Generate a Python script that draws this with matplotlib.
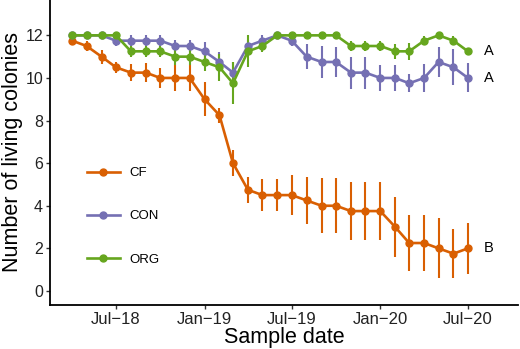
import matplotlib
matplotlib.use("Agg")
import matplotlib.pyplot as plt
import matplotlib.dates as mdates
import numpy as np
import pandas as pd
from matplotlib.lines import Line2D

plt.rcParams['font.family'] = ['Liberation Sans', 'DejaVu Sans']

dates = pd.date_range("2018-04-01", "2020-07-01", freq="MS")

cf_mean = [11.75, 11.5, 11, 10.5, 10.25, 10.25, 10, 10, 10, 9, 8.25, 6, 4.75, 4.5,
           4.5, 4.5, 4.25, 4, 4, 3.75, 3.75, 3.75, 3, 2.25, 2.25, 2, 1.75, 2]
cf_err = [0.2, 0.25, 0.33, 0.26, 0.39, 0.45, 0.47, 0.63, 0.63, 0.8, 0.35, 0.6, 0.61, 0.75,
          0.75, 0.94, 1.1, 1.28, 1.28, 1.37, 1.37, 1.37, 1.4, 1.31, 1.31, 1.41, 1.16, 1.21]

con_mean = [12, 12, 12, 11.75, 11.75, 11.75, 11.75, 11.5, 11.5, 11.25, 10.75, 10.25, 11.5, 11.75,
            12, 11.75, 11, 10.75, 10.75, 10.25, 10.25, 10, 10, 9.75, 10, 10.75, 10.5, 10]
con_err = [0, 0, 0, 0.25, 0.25, 0.25, 0.25, 0.3, 0.3, 0.43, 0.45, 0.5, 0.3, 0.25,
           0, 0.25, 0.59, 0.74, 0.7, 0.75, 0.75, 0.59, 0.59, 0.43, 0.67, 0.72, 0.84, 0.68]

org_mean = [12, 12, 12, 12, 11.25, 11.25, 11.25, 11, 11, 10.75, 10.5, 9.75, 11.25, 11.5,
            12, 12, 12, 12, 12, 11.5, 11.5, 11.5, 11.25, 11.25, 11.75, 12, 11.75, 11.25]
org_err = [0, 0, 0, 0, 0.25, 0.25, 0.25, 0.4, 0.4, 0.43, 0.63, 0.98, 0.75, 0.3,
           0, 0, 0, 0, 0, 0.25, 0.25, 0.25, 0.35, 0.4, 0.2, 0, 0.2, 0.16]

groups = ["CF", "CON", "ORG"]
letters = ["B", "A", "A"]
colors = ["#D95F02", "#7570B3", "#66A61E"]

tick_dates = pd.to_datetime(["2018-07-01", "2019-01-01", "2019-07-01", "2020-01-01", "2020-07-01"])
tick_labels = ["Jul\u221218", "Jan\u221219", "Jul\u221219", "Jan\u221220", "Jul\u221220"]

fig = plt.figure(figsize=(5.2, 3.49), dpi=100)
ax = fig.add_axes([50/520, 1 - 305/349, 468/520, 305/349])

series = [(cf_mean, cf_err), (con_mean, con_err), (org_mean, org_err)]
handles = []
for (m, e), c, g in zip(series, colors, groups):
    ax.errorbar(dates, m, yerr=e, color=c, ecolor=c, elinewidth=1.5, capsize=0,
                lw=1.9, marker='o', markersize=5, zorder=3)
    handles.append(Line2D([], [], color=c, lw=1.9, marker='o', markersize=5))

for (m, e), c, lt in zip(series, colors, letters):
    ax.text(dates[-1] + pd.Timedelta(days=44), m[-1], lt, ha='center', va='center',
            fontsize=10.5, color='black')

ax.set_xlim(dates[0] - pd.Timedelta(days=46), dates[-1] + pd.Timedelta(days=104))
ax.set_ylim(-0.66, 13.66)
ax.set_yticks([0, 2, 4, 6, 8, 10, 12])
ax.set_xticks(tick_dates)
ax.set_xticklabels(tick_labels)

for s in ['top', 'right']:
    ax.spines[s].set_visible(False)
for s in ['left', 'bottom']:
    ax.spines[s].set_linewidth(1.3)
    ax.spines[s].set_color('black')
ax.tick_params(axis='both', length=3, width=1.0, color='#333333', labelcolor='#222222', pad=2)
ax.tick_params(axis='x', labelsize=12)
ax.tick_params(axis='y', labelsize=11.5)

ax.set_xlabel("Sample date", fontsize=15.5, labelpad=0)
ax.set_ylabel("Number of living colonies", fontsize=15.5, labelpad=2)

leg = ax.legend(handles, groups, loc='upper left', frameon=False, fontsize=9.5,
                handlelength=2.5, handletextpad=0.7, labelspacing=2.35,
                borderpad=0, borderaxespad=0,
                bbox_to_anchor=(87/520, 1 - 167/349), bbox_transform=fig.transFigure)

fig.savefig("out.png", dpi=100)
